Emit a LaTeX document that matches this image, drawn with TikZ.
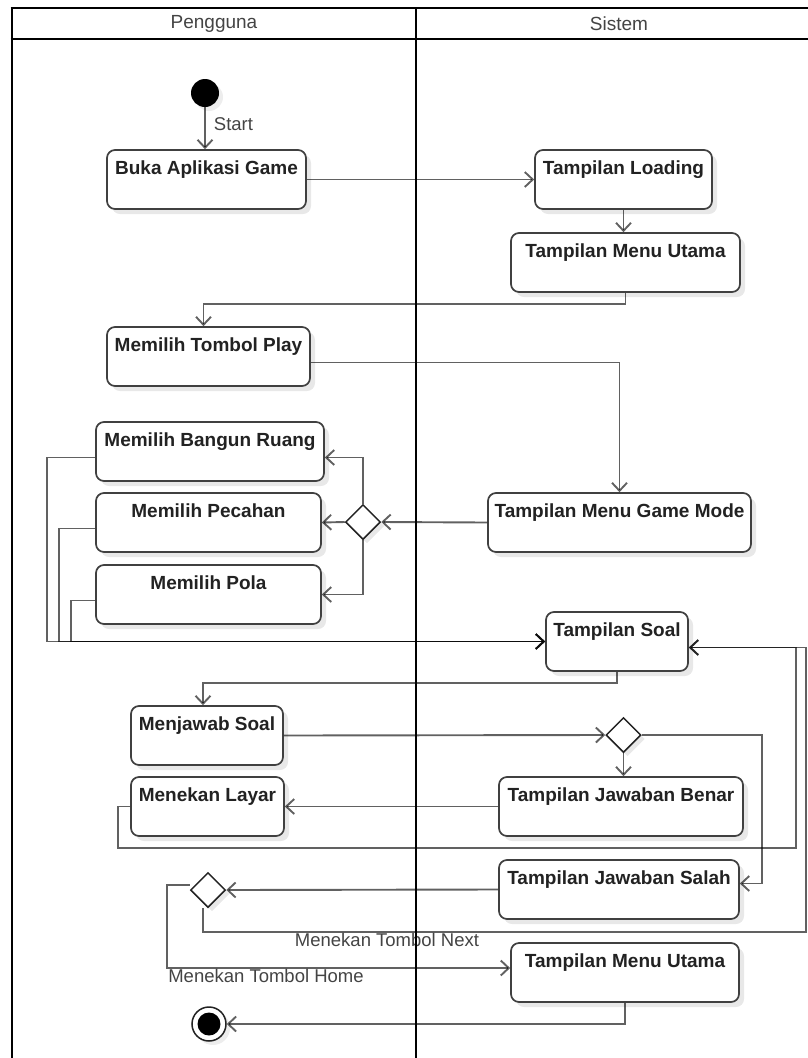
\documentclass[tikz,border=0pt]{standalone}
\usepackage{fontspec}
\setmainfont{Liberation Sans}
\usetikzlibrary{arrows.meta,shapes.geometric,shadows}

\definecolor{boxline}{HTML}{404040}
\definecolor{ink}{HTML}{222222}
\definecolor{soft}{HTML}{444444}

\tikzset{
  act/.style={draw=boxline, line width=1.7pt, rounded corners=8pt, fill=white,
    drop shadow={shadow xshift=5pt, shadow yshift=-5pt, fill=black, opacity=0.09},
    font=\fontsize{19}{22}\selectfont\bfseries, text=ink,
    minimum height=59pt, inner xsep=0pt, inner ysep=5.5pt,
    text height=19pt, text depth=29pt},
  decision/.style={diamond, draw=ink, line width=1.5pt, fill=white,
    minimum width=35pt, minimum height=35pt, inner sep=0pt,
    drop shadow={shadow xshift=4pt, shadow yshift=-4pt, fill=black, opacity=0.09}},
  initial/.style={circle, fill=black, minimum size=28pt, inner sep=0pt,
    drop shadow={shadow xshift=4pt, shadow yshift=-4pt, fill=black, opacity=0.07}},
  final/.style={circle, draw=ink, line width=1.5pt, fill=white,
    minimum size=34pt, inner sep=0pt,
    drop shadow={shadow xshift=4pt, shadow yshift=-4pt, fill=black, opacity=0.07},
    path picture={\fill[black] (path picture bounding box.center) circle (11.5pt);}},
  flow/.style={draw=black, draw opacity=0.62, line width=1.9pt, line join=miter,
    -{Straight Barb[length=8pt, width=15pt]}},
  lane/.style={draw=black, line width=2.6pt},
  head/.style={font=\fontsize{19}{22}\selectfont, text=soft, inner sep=0pt},
  lbl/.style={font=\fontsize{18.5}{22}\selectfont, text=soft, inner sep=0pt},
}

\begin{document}
\begin{tikzpicture}[x=1pt, y=-1pt]
\useasboundingbox (0,0) rectangle (808,1058);
\fill[white] (0,0) rectangle (808,1058);

% swimlane headers
\node[head] (hp) at (214,24) {Pengguna};
\node[head] (hs) at (619,24) {Sistem};

% start and end
\node[initial] (start) at (205,93) {};
\node[final] (fin) at (209,1024) {};

% activities
\node[act, minimum width=199pt] (buka)    at (206.5,179.5) {Buka Aplikasi Game};
\node[act, minimum width=177pt] (load)    at (623.5,179.5) {Tampilan Loading};
\node[act, minimum width=229pt] (menu1)   at (625.5,262.5) {Tampilan Menu Utama};
\node[act, minimum width=203pt] (play)    at (208.5,356.5) {Memilih Tombol Play};
\node[act, minimum width=228pt] (bangun)  at (210,451.5)   {Memilih Bangun Ruang};
\node[act, minimum width=225pt] (pecahan) at (208.5,522.5) {Memilih Pecahan};
\node[act, minimum width=225pt] (pola)    at (208.5,594.5) {Memilih Pola};
\node[act, minimum width=263pt] (gmode)   at (619.5,522.5) {Tampilan Menu Game Mode};
\node[act, minimum width=142pt] (soal)    at (617,641.5)   {Tampilan Soal};
\node[act, minimum width=152pt] (jawab)   at (207,735.5)   {Menjawab Soal};
\node[act, minimum width=153pt] (layar)   at (207.5,806.5) {Menekan Layar};
\node[act, minimum width=244pt] (benar)   at (621,806.5)   {Tampilan Jawaban Benar};
\node[act, minimum width=240pt] (salah)   at (619,889.5)   {Tampilan Jawaban Salah};
\node[act, minimum width=228pt] (menu2)   at (625,972.5)   {Tampilan Menu Utama};

% decisions
\node[decision] (d1) at (363,522) {};
\node[decision] (d2) at (623.5,735) {};
\node[decision] (d3) at (208,890) {};

% bend points of the long loops
\coordinate (loopA) at (796,848);
\coordinate (loopB) at (806,932);

% flows
\draw[flow] (start.south) -- (start.south |- buka.north)
  node[lbl, anchor=west, pos=0.4, xshift=8pt] (startlbl) {Start};
\draw[flow] (buka.east) -- (load.west);
\draw[flow] (load.south) -- (load.south |- menu1.north);
\draw[flow] (menu1.south) -- ++(0,11) -| ([xshift=-5pt]play.north);
\draw[flow] ([yshift=-6pt]play.east) -| (gmode.north);
\draw[flow] (gmode.west) -- (d1.east);
\draw[flow] (d1.north) |- ([yshift=-6pt]bangun.east);
\draw[flow] (d1.west) -- (pecahan.east);
\draw[flow] (d1.south) |- (pola.east);
\draw[flow] ([yshift=-6pt]bangun.west) -- ++(-48,0) |- (soal.west);
\draw[flow] ([yshift=-6pt]pecahan.west) -- ++(-36,0) |- (soal.west);
\draw[flow] ([yshift=-6pt]pola.west) -- ++(-24,0) |- (soal.west);
\draw[flow] (soal.south) -- ++(0,11) -| ([xshift=-4pt]jawab.north);
\draw[flow] (jawab.east) -- (d2.west);
\draw[flow] (d2.south) -- (d2.south |- benar.north);
\draw[flow] (d2.east) -- ++(120,0) |- ([yshift=6pt]salah.east);
\draw[flow] (benar.west) -- (layar.east);
\draw[flow] (layar.west) -- ++(-12,0) |- (loopA) |- ([yshift=-6pt]soal.east);
\draw[flow] (salah.west) -- (d3.east);
\draw[flow] ([xshift=-5pt]d3.south) |- (loopB) |- ([yshift=-6pt]soal.east);
\node[lbl] (nextlbl) at (387,940) {Menekan Tombol Next};
\draw[flow] ([yshift=5pt]d3.west) -- ++(-23,0) |- ([yshift=4.5pt]menu2.west);
\node[lbl] (homelbl) at (266,976) {Menekan Tombol Home};
\draw[flow] (menu2.south) |- (fin.east);

% swimlane frame, drawn over the flows
\draw[lane] (10.7,8) -- (808,8);
\draw[lane] (10.7,39) -- (808,39);
\draw[lane] (12,8) -- (12,1058);
\draw[lane] (416,8) -- (416,1058);
\end{tikzpicture}
\end{document}
